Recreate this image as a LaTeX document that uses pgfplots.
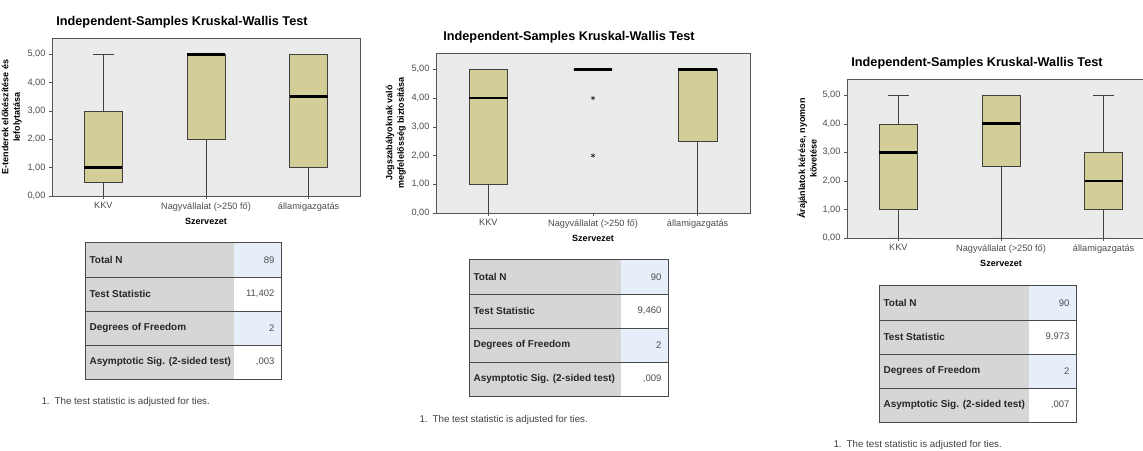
\documentclass[border=0pt]{standalone}
\usepackage{fontspec}
\setmainfont{Liberation Sans}
\usepackage{pgfplots}
\pgfplotsset{compat=1.18}
\usepgfplotslibrary{statistics}

\definecolor{bggray}{HTML}{EBEBEB}
\definecolor{boxfill}{HTML}{D3CE97}
\definecolor{framegray}{HTML}{555555}
\definecolor{labgray}{HTML}{D6D6D6}
\definecolor{valblue}{HTML}{E6EFF9}
\definecolor{tblline}{HTML}{4A4A4A}

\pgfplotsset{kw/.style={
    scale only axis, width=308pt,
    xmin=0.5, xmax=3.5, ymin=0, ymax=5.57,
    axis background/.style={fill=bggray},
    axis line style={draw=framegray, line width=0.8pt},
    xtick={1,2,3},
    xticklabels={KKV, Nagyvállalat (>250 fő), államigazgatás},
    ytick={0,1,2,3,4,5},
    xtick pos=bottom, ytick pos=left,
    tick align=outside, major tick length=3pt,
    tick style={framegray, line width=0.6pt},
    yticklabel style={/pgf/number format/.cd, fixed, fixed zerofill,
        precision=2, use comma, assume math mode=true},
    tick label style={font=\fontsize{9.2}{10.5}\selectfont, text=black!70},
    xlabel={Szervezet},
    label style={font=\bfseries\fontsize{9}{11.5}\selectfont, align=center},
    ylabel shift=-1pt,
    title={Independent-Samples Kruskal-Wallis Test},
    title style={font=\bfseries\fontsize{12.7}{14}\selectfont, xshift=-24pt},
    boxplot/draw direction=y,
    boxplot/box extend=0.37,
    boxplot/whisker extend=0.2,
    boxplot/every median/.style={line width=2.8pt, black},
  },
  kwbox/.style={draw=black!75, line width=0.6pt, fill=boxfill, mark=none}
}

% Kruskal-Wallis summary table: left, top, label col width, total width, N, stat, df, sig
\newcommand{\kwtable}[8]{%
  \begin{scope}[shift={(#1pt,#2pt)}, x=1pt, y=1pt]
    \fill[labgray] (0,0) rectangle (#3,-136);
    \fill[valblue] (#3,0) rectangle (#4,-34);
    \fill[white] (#3,-34) rectangle (#4,-68);
    \fill[valblue] (#3,-68) rectangle (#4,-102);
    \fill[white] (#3,-102) rectangle (#4,-136);
    \draw[tblline, line width=0.9pt] (0,-34) -- (#4,-34) (0,-68) -- (#4,-68) (0,-102) -- (#4,-102);
    \draw[tblline, line width=1pt] (0,0) rectangle (#4,-136);
    \begin{scope}[every node/.style={font=\bfseries\fontsize{10}{11}\selectfont, text=black!85, anchor=west}]
      \node at (1,-17) {Total N};
      \node at (1,-51) {Test Statistic};
      \node at (1,-85) {Degrees of Freedom};
      \node at (1,-119) {Asymptotic Sig. (2-sided test)};
    \end{scope}
    \begin{scope}[every node/.style={font=\fontsize{9.5}{11}\selectfont, text=black!70, anchor=east}]
      \node at (#4-3,-17) {#5};
      \node at (#4-3,-51) {#6};
      \node at (#4-3,-85) {#7};
      \node at (#4-3,-119) {#8};
    \end{scope}
  \end{scope}}

\begin{document}
\begin{tikzpicture}

% chart 1
\begin{axis}[kw, at={(52pt,254pt)}, anchor=south west, height=158pt,
    ylabel={E-tenderek előkészítése és\\lefolytatása}]
  \addplot[kwbox, boxplot prepared={draw position=1, lower whisker=0,
      lower quartile=0.5, median=1, upper quartile=3, upper whisker=5}] coordinates {};
  \addplot[kwbox, boxplot prepared={draw position=2, lower whisker=0,
      lower quartile=2, median=5, upper quartile=5, upper whisker=5}] coordinates {};
  \addplot[kwbox, boxplot prepared={draw position=3, lower whisker=0,
      lower quartile=1, median=3.5, upper quartile=5, upper whisker=5}] coordinates {};
\end{axis}

% chart 2
\begin{axis}[kw, at={(436pt,237pt)}, anchor=south west, height=160pt, width=314pt,
    ylabel={Jogszabályoknak való\\megfelelősség biztosítása}]
  \addplot[kwbox, boxplot prepared={draw position=1, lower whisker=0,
      lower quartile=1, median=4, upper quartile=5, upper whisker=5}] coordinates {};
  \addplot[kwbox, mark=asterisk, mark size=2.2pt, mark options={black!80, line width=0.6pt},
      boxplot prepared={draw position=2, lower whisker=5,
      lower quartile=5, median=5, upper quartile=5, upper whisker=5}] coordinates {(0,4) (0,2)};
  \addplot[kwbox, boxplot prepared={draw position=3, lower whisker=0,
      lower quartile=2.5, median=5, upper quartile=5, upper whisker=5}] coordinates {};
\end{axis}

% chart 3
\begin{axis}[kw, at={(847pt,212pt)}, anchor=south west, height=159pt,
    ylabel={Árajánlatok kérése, nyomon\\követése}]
  \addplot[kwbox, boxplot prepared={draw position=1, lower whisker=0,
      lower quartile=1, median=3, upper quartile=4, upper whisker=5}] coordinates {};
  \addplot[kwbox, boxplot prepared={draw position=2, lower whisker=0,
      lower quartile=2.5, median=4, upper quartile=5, upper whisker=5}] coordinates {};
  \addplot[kwbox, boxplot prepared={draw position=3, lower whisker=0,
      lower quartile=1, median=2, upper quartile=3, upper whisker=5}] coordinates {};
\end{axis}

% summary tables
\kwtable{85}{207}{149}{196}{89}{11,402}{2}{,003}
\kwtable{469}{190}{152}{199}{90}{9,460}{2}{,009}
\kwtable{879}{164}{150}{197}{90}{9,973}{2}{,007}

\begin{scope}[every node/.style={font=\fontsize{9.8}{11}\selectfont, text=black!75, anchor=west}]
  \node at (38pt,48pt) {1.\enspace The test statistic is adjusted for ties.};
  \node at (416pt,30pt) {1.\enspace The test statistic is adjusted for ties.};
  \node at (830pt,5pt) {1.\enspace The test statistic is adjusted for ties.};
\end{scope}

\pgfresetboundingbox
\useasboundingbox (0,0) rectangle (1143pt,450pt);
\end{tikzpicture}
\end{document}
